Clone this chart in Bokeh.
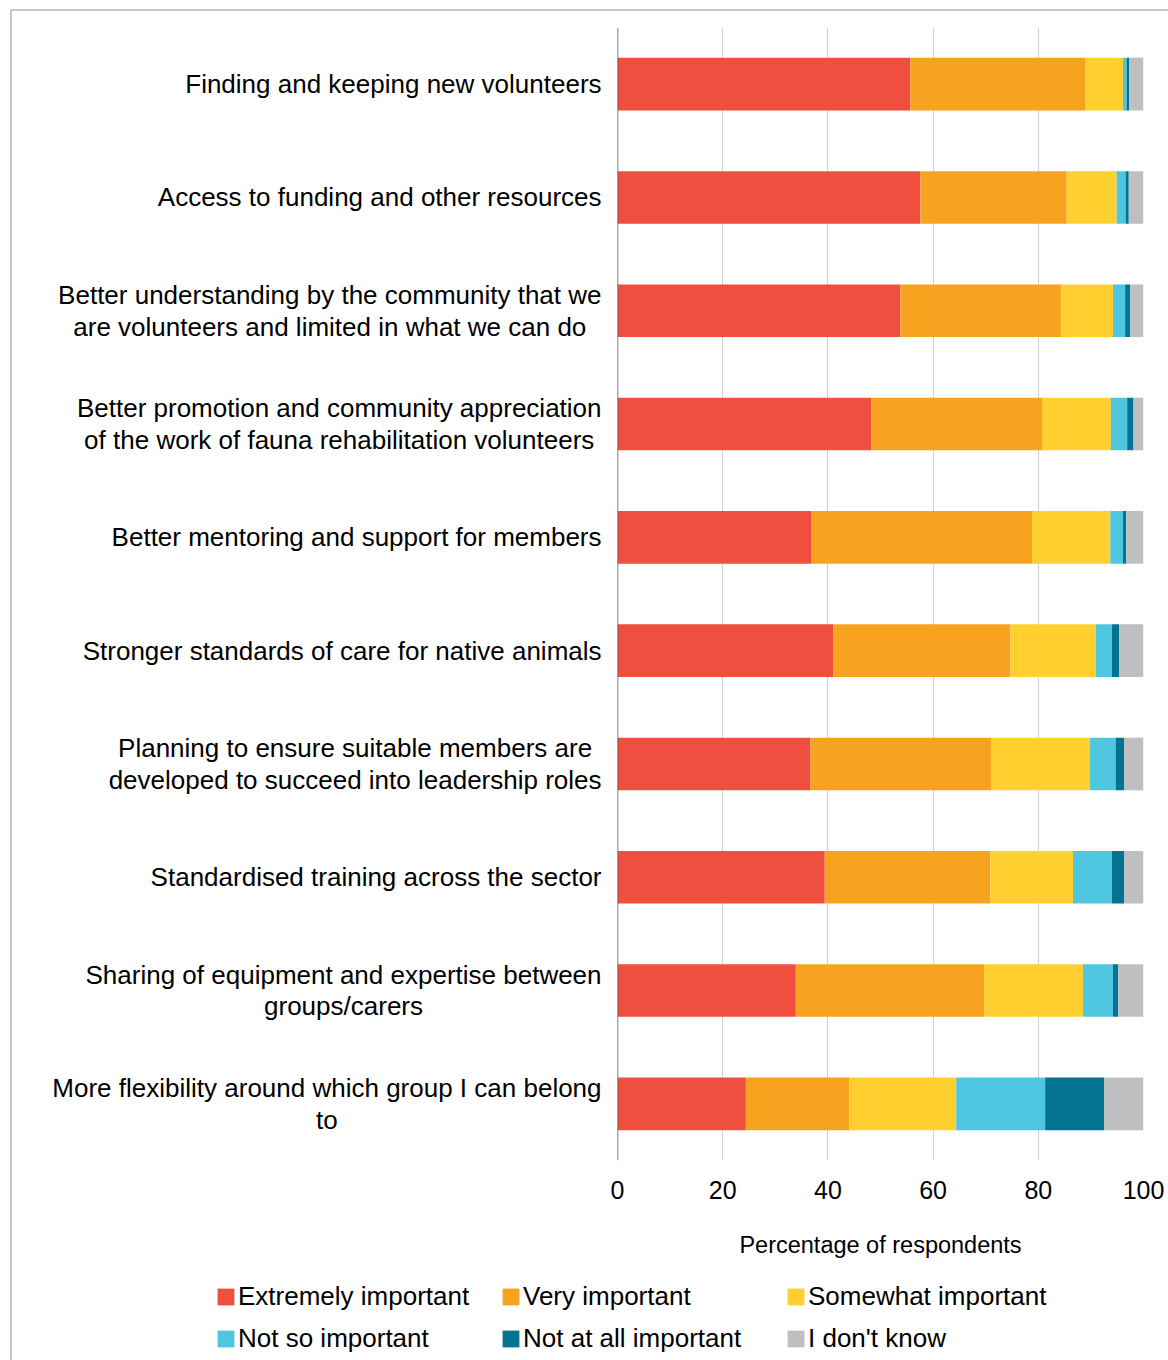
from bokeh.plotting import figure
from bokeh.layouts import column, row
from bokeh.models import (ColumnDataSource, FactorRange, Range1d, FixedTicker, Span,
                          Legend, LegendItem)
from bokeh.core.properties import value
from bokeh.embed import file_html
from bokeh.resources import INLINE

# ---------------- data ----------------
categories = [
    "Finding and keeping new volunteers",
    "Access to funding and other resources",
    "Better understanding by the community that we\nare volunteers and limited in what we can do",
    "Better promotion and community appreciation\nof the work of fauna rehabilitation volunteers",
    "Better mentoring and support for members",
    "Stronger standards of care for native animals",
    "Planning to ensure suitable members are\ndeveloped to succeed into leadership roles",
    "Standardised training across the sector",
    "Sharing of equipment and expertise between\ngroups/carers",
    "More flexibility around which group I can belong\nto",
]
extremely = [55.7, 57.6, 53.8, 48.3, 36.9, 41.0, 36.7, 39.4, 33.9, 24.4]
very = [33.2, 27.8, 30.5, 32.4, 41.9, 33.7, 34.3, 31.5, 35.8, 19.7]
somewhat = [7.2, 9.5, 9.9, 13.1, 14.9, 16.2, 18.8, 15.7, 18.8, 20.3]
not_so = [0.7, 1.7, 2.3, 3.1, 2.4, 3.1, 4.9, 7.4, 5.7, 16.9]
not_at_all = [0.5, 0.6, 1.0, 1.2, 0.6, 1.4, 1.6, 2.3, 1.0, 11.2]
dont_know = [2.7, 2.8, 2.5, 1.9, 3.3, 4.6, 3.7, 3.7, 4.8, 7.5]

series_names = ["Extremely important", "Very important", "Somewhat important",
                "Not so important", "Not at all important", "I don't know"]
series_keys = ["extremely", "very", "somewhat", "not_so", "not_at_all", "dont_know"]
colors = ["#EF4F3E", "#F8A31F", "#FFD030", "#4FC6DF", "#037391", "#BEBFC1"]
x_ticks = [0, 20, 40, 60, 80, 100]
x_title = "Percentage of respondents"

FONT = "Liberation Sans"
LABEL_FS = 26

# Arial / Liberation Sans advance widths (1/1000 em), used to centre wrapped labels
ARIAL = {" ": 278, "/": 278, "'": 191,
         "a": 556, "b": 556, "c": 500, "d": 556, "e": 556, "f": 278, "g": 556, "h": 556,
         "i": 222, "j": 222, "k": 500, "l": 222, "m": 833, "n": 556, "o": 556, "p": 556,
         "q": 556, "r": 333, "s": 500, "t": 278, "u": 556, "v": 500, "w": 722, "x": 500,
         "y": 500, "z": 500,
         "A": 667, "B": 667, "C": 722, "D": 722, "E": 667, "F": 611, "G": 778, "H": 722,
         "I": 278, "J": 500, "K": 667, "L": 556, "M": 833, "N": 722, "O": 778, "P": 667,
         "Q": 778, "R": 722, "S": 667, "T": 611, "U": 722, "V": 667, "W": 944, "X": 667,
         "Y": 667, "Z": 611}


def text_width(s, size):
    return sum(ARIAL.get(ch, 556) for ch in s) * size / 1000.0


# ---------------- geometry (content starts 12px/11px inside the window) ----------------
TOTAL_W, TOTAL_H = 1156, 1349
LABEL_W = 595
MAIN_W = TOTAL_W - LABEL_W
TOP_H = 1254
LEG_H = TOTAL_H - TOP_H
FRAME_TOP, FRAME_BOTTOM = 16, 105

source = ColumnDataSource(dict(
    cat=categories, extremely=extremely, very=very, somewhat=somewhat,
    not_so=not_so, not_at_all=not_at_all, dont_know=dont_know))

y_range = FactorRange(*reversed(categories))

# ---------------- main bar chart ----------------
p = figure(width=MAIN_W, height=TOP_H, output_backend="svg", toolbar_location=None,
           title=None, x_range=Range1d(0, 100), y_range=y_range,
           min_border_left=10, min_border_right=25, min_border_top=FRAME_TOP,
           min_border_bottom=FRAME_BOTTOM)
p.outline_line_color = None
p.border_fill_color = "white"

renderers = p.hbar_stack(series_keys, y="cat", height=0.464, color=colors,
                         line_color=None, source=source)

p.yaxis.visible = False
p.ygrid.visible = False
p.xgrid.grid_line_color = "#D0D0D0"
p.xgrid.grid_line_width = 1
p.xaxis.ticker = FixedTicker(ticks=x_ticks)
p.xaxis.axis_line_color = None
p.xaxis.major_tick_line_color = None
p.xaxis.minor_tick_line_color = None
p.xaxis.major_label_standoff = 14
p.xaxis.major_label_text_font = FONT
p.xaxis.major_label_text_font_size = "25px"
p.xaxis.major_label_text_color = "#000000"
p.xaxis.axis_label = x_title
p.xaxis.axis_label_text_font = FONT
p.xaxis.axis_label_text_font_size = "23.5px"
p.xaxis.axis_label_text_font_style = "normal"
p.xaxis.axis_label_text_color = "#000000"
p.xaxis.axis_label_standoff = 30
p.add_layout(Span(location=0, dimension="height", line_color="#595959", line_width=1.5))

# ---------------- category labels ----------------
pl = figure(width=LABEL_W, height=TOP_H, output_backend="svg", toolbar_location=None,
            title=None, x_range=Range1d(0, LABEL_W), y_range=y_range,
            min_border_left=0, min_border_right=0, min_border_top=FRAME_TOP,
            min_border_bottom=FRAME_BOTTOM)
pl.axis.visible = False
pl.grid.visible = False
pl.outline_line_color = None
pl.border_fill_color = "white"
right_edge = LABEL_W - 6
label_x = [right_edge - max(text_width(line, LABEL_FS) for line in c.split("\n")) / 2.0
           for c in categories]
lab_src = ColumnDataSource(dict(cat=categories, lx=label_x))
pl.text(x="lx", y="cat", text="cat", source=lab_src, text_align="center",
        text_baseline="middle", text_font=value(FONT), text_font_size=f"{LABEL_FS}px",
        text_color="#000000", text_line_height=1.05)

# ---------------- legend ----------------
pg = figure(width=TOTAL_W, height=LEG_H, output_backend="svg", toolbar_location=None,
            title=None, x_range=Range1d(0, 1), y_range=Range1d(0, 1),
            min_border_left=0, min_border_right=0, min_border_top=0, min_border_bottom=0)
pg.axis.visible = False
pg.grid.visible = False
pg.outline_line_color = None
pg.border_fill_color = "white"
pg.background_fill_color = "white"
# one bar per series placed well outside the visible ranges, so the legend has a glyph
dummies = [pg.hbar(y=[-10], left=[5], right=[6], height=0.5, color=c, line_color=None)
           for c in colors]
items = [LegendItem(label=n, renderers=[r]) for n, r in zip(series_names, dummies)]
legend = Legend(items=items, location=(203, 5.5), orientation="horizontal", ncols=3,
                glyph_width=21, glyph_height=21, label_standoff=2,
                label_width=252, label_height=32, spacing=10, padding=0, margin=0,
                border_line_color=None, background_fill_alpha=0,
                label_text_font=FONT, label_text_font_size="26px",
                label_text_color="#000000")
pg.add_layout(legend, "center")

layout = column(row(pl, p, spacing=0), pg, spacing=0,
                styles={"margin-left": "10px", "margin-top": "9px",
                        "border-left": "2px solid #C6C6C6",
                        "border-top": "2px solid #C6C6C6"})

open("out.html", "w").write(file_html(layout, INLINE))
